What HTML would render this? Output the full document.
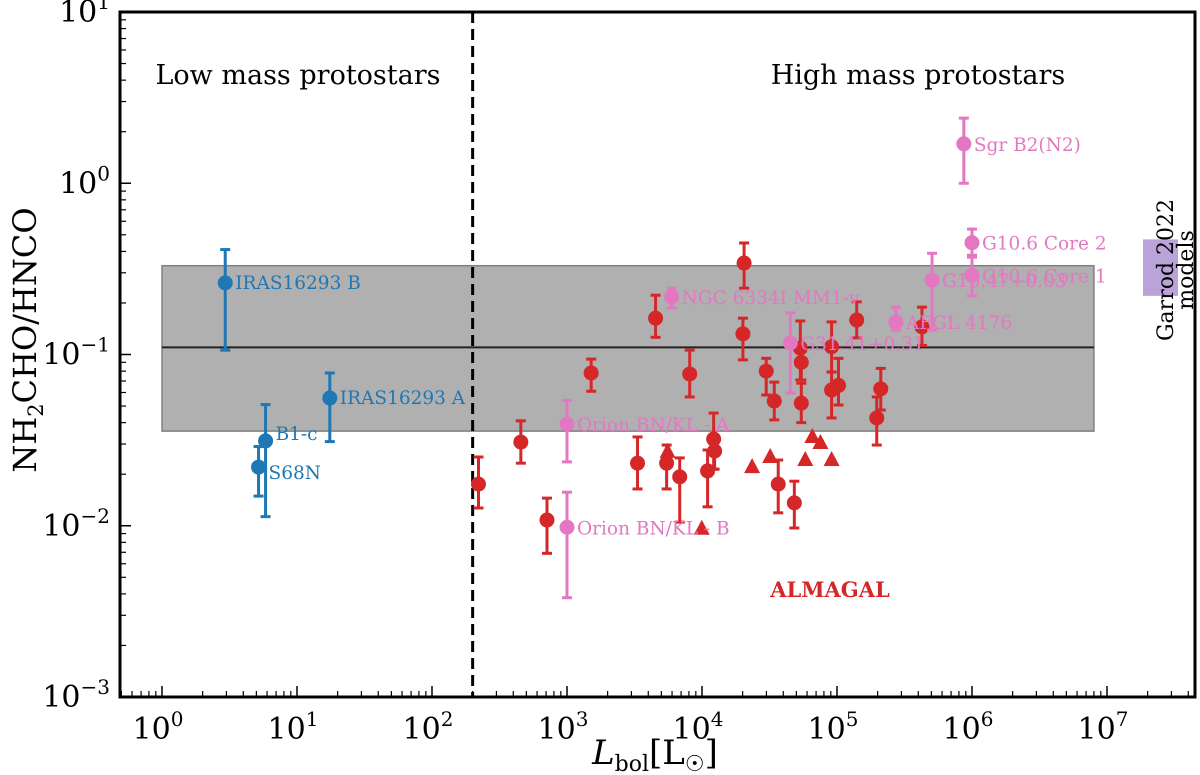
<!DOCTYPE html>
<html><head><meta charset="utf-8"><style>
body{margin:0;background:#fff;}
svg{display:block;font-family:"DejaVu Serif","Liberation Serif",serif;}
</style></head><body>
<svg id="chart" width="1200" height="775" viewBox="0 0 1200 775" xmlns="http://www.w3.org/2000/svg"></svg>
<script>
// ALMAGAL circles: L, ratio, err low, err high
const almL=[221,455,711,1510,3330,4530,5470,6840,8110,11000,12200,12400,20500,20100,29900,34300,36700,48300,53500,54400,54400,91200,91200,102600,140000,211000,197000,426000];
const almR=[0.0175,0.0308,0.0108,0.078,0.0232,0.163,0.0232,0.0193,0.077,0.0209,0.0321,0.0273,0.342,0.132,0.080,0.0535,0.0175,0.0136,0.109,0.090,0.052,0.111,0.062,0.066,0.159,0.063,0.0426,0.145];
const almLo=[0.0127,0.0232,0.0069,0.061,0.0164,0.126,0.0164,0.0105,0.0565,0.0129,0.0214,0.0214,0.244,0.093,0.058,0.0415,0.0119,0.0097,0.071,0.071,0.040,0.079,0.0426,0.0507,0.125,0.0474,0.0296,0.113];
const almHi=[0.0252,0.041,0.0145,0.094,0.033,0.222,0.0296,0.0249,0.106,0.0277,0.0455,0.0321,0.448,0.163,0.095,0.069,0.0242,0.0182,0.157,0.111,0.068,0.155,0.079,0.095,0.203,0.083,0.0565,0.189];
// ALMAGAL upper limits (triangles)
const triL=[5560,9960,23500,32000,58200,65700,75400,91200];
const triR=[0.027,0.0096,0.022,0.0252,0.0242,0.033,0.0304,0.0242];
// literature high-mass (pink)
const hmNames=["NGC 6334I MM1-v","G31.41+0.31","Orion BN/KL - A","Orion BN/KL - B","AFGL 4176","G10.47+0.03","Sgr B2(N2)","G10.6 Core 2","G10.6 Core 1"];
const hmL=[5960,45100,1000,1000,273000,506000,870000,1000000,1000000];
const hmR=[0.217,0.117,0.0393,0.0098,0.155,0.272,1.70,0.45,0.29];
const hmLo=[0.187,0.0597,0.0236,0.0038,0.139,0.139,1.0,0.38,0.22];
const hmHi=[0.244,0.175,0.054,0.0157,0.189,0.39,2.40,0.54,0.37];
// low-mass (blue)
const lmNames=["IRAS16293 B","IRAS16293 A","B1-c","S68N"];
const lmL=[2.94,17.5,5.85,5.19];
const lmR=[0.262,0.0557,0.0313,0.022];
const lmLo=[0.106,0.031,0.0113,0.0149];
const lmHi=[0.41,0.078,0.051,0.029];
const xTicks=[0,1,2,3,4,5,6,7];
const yTicks=[-3,-2,-1,0,1];

const NS="http://www.w3.org/2000/svg";
const svg=document.getElementById('chart');
const X0=120,X1=1195,Y0=12,Y1=697;
const xDec=135,x10=162;
const yDec=(Y1-Y0)/4;
function xs(v){return x10+Math.log10(v)*xDec;}
function ys(v){return Y1-(Math.log10(v)+3)*yDec;}
function mk(tag,attrs,parent){const e=document.createElementNS(NS,tag);for(const k in attrs)e.setAttribute(k,attrs[k]);(parent||svg).appendChild(e);return e;}

const band=mk('rect',{x:xs(1),y:ys(0.33),width:xs(8e6)-xs(1),height:ys(0.0357)-ys(0.33),fill:'#b0b0b0',stroke:'#808080','stroke-width':1.5});


const mline=mk('line',{x1:xs(1),x2:xs(8e6),y1:ys(0.11),y2:ys(0.11),stroke:'#222','stroke-width':2});


const gb=mk('rect',{x:1143,y:ys(0.47),width:35,height:ys(0.22)-ys(0.47),fill:'#b9a3d8'});


const dv=mk('line',{x1:xs(200),x2:xs(200),y1:Y0,y2:Y1,stroke:'#000','stroke-width':3,'stroke-dasharray':'11,6'});



function errbar(L,v,lo,hi,col,name,r){
  const g=mk('g',{});
  
  
  const x=xs(L);
  mk('line',{x1:x,x2:x,y1:ys(lo),y2:ys(hi),stroke:col,'stroke-width':3},g);
  mk('line',{x1:x-5,x2:x+5,y1:ys(lo),y2:ys(lo),stroke:col,'stroke-width':3},g);
  mk('line',{x1:x-5,x2:x+5,y1:ys(hi),y2:ys(hi),stroke:col,'stroke-width':3},g);
  mk('circle',{cx:x,cy:ys(v),r:r||7.5,fill:col},g);
}
for(let i=0;i<almL.length;i++)errbar(almL[i],almR[i],almLo[i],almHi[i],'#d62728','almagal-point');
for(let i=0;i<triL.length;i++){
  const x=xs(triL[i]),y=ys(triR[i]);
  const t=mk('polygon',{points:`${x},${y-9} ${x-8},${y+6} ${x+8},${y+6}`,fill:'#d62728'});
  
  
}
const pink='#e377c2';
for(let i=0;i<hmL.length;i++){
  errbar(hmL[i],hmR[i],hmLo[i],hmHi[i],pink,'high-mass-point');
  const t=mk('text',{x:xs(hmL[i])+10,y:ys(hmR[i])+7,fill:pink,'font-size':18.5});
  t.textContent=hmNames[i];
  
  
}
const blue='#1f77b4';
const lmOff=[[10,6],[10,6],[10,-1],[10,12]];
for(let i=0;i<lmL.length;i++){
  errbar(lmL[i],lmR[i],lmLo[i],lmHi[i],blue,'low-mass-point');
  const t=mk('text',{x:xs(lmL[i])+lmOff[i][0],y:ys(lmR[i])+lmOff[i][1],fill:blue,'font-size':18.5});
  t.textContent=lmNames[i];
  
  
}

const fr=mk('rect',{x:X0,y:Y0,width:X1-X0,height:Y1-Y0,fill:'none',stroke:'#000','stroke-width':3});


for(const d of xTicks){
  const x=x10+d*xDec;
  mk('line',{x1:x,x2:x,y1:Y1,y2:Y1-11,stroke:'#000','stroke-width':1.5});
  const t=mk('text',{x:x-4,y:Y1+42,'font-size':30,'text-anchor':'middle'});
  t.innerHTML=`10<tspan font-size="20" dy="-13">${d}</tspan>`;
  
  
}
for(let d=-1;d<=7;d++)for(let m=2;m<=9;m++){
  const x=x10+(d+Math.log10(m))*xDec;
  if(x>X0&&x<X1)mk('line',{x1:x,x2:x,y1:Y1,y2:Y1-6,stroke:'#000','stroke-width':1.2});
}
for(const d of yTicks){
  const y=Y1-(d+3)*yDec;
  mk('line',{x1:X0,x2:X0+11,y1:y,y2:y,stroke:'#000','stroke-width':1.5});
  const t=mk('text',{x:X0-10,y:y+10,'font-size':30,'text-anchor':'end'});
  t.innerHTML=`10<tspan font-size="20" dy="-13">${d<0?'\u2212'+(-d):d}</tspan>`;
  
  
}
for(let d=-3;d<1;d++)for(let m=2;m<=9;m++){
  const y=Y1-(d+3+Math.log10(m))*yDec;
  mk('line',{x1:X0,x2:X0+6,y1:y,y2:y,stroke:'#000','stroke-width':1.2});
}
</script>
<div style="position:absolute;left:0;top:0;width:1200px;height:775px;pointer-events:none">
<svg width="1200" height="775" style="font-family:'DejaVu Serif','Liberation Serif',serif">
<text x="298" y="84" font-size="27" text-anchor="middle">Low mass protostars</text>
<text x="918" y="84" font-size="27" text-anchor="middle">High mass protostars</text>
<text x="830" y="597" font-size="21" font-weight="bold" fill="#d62728" text-anchor="middle">ALMAGAL</text>
<text transform="translate(1173,270) rotate(-90)" font-size="22" text-anchor="middle">Garrod 2022</text>
<text transform="translate(1193,270) rotate(-90)" font-size="22" text-anchor="middle">models</text>
<text x="655" y="764" font-size="34" text-anchor="middle"><tspan font-style="italic">L</tspan><tspan font-size="22" dy="7">bol</tspan><tspan dy="-7">[L</tspan><tspan font-size="22" dy="7">☉</tspan><tspan dy="-7">]</tspan></text>
<text transform="translate(36,340) rotate(-90)" font-size="32" text-anchor="middle">NH<tspan font-size="21" dy="7">2</tspan><tspan dy="-7">CHO/HNCO</tspan></text>
</svg></div>
</body></html>
